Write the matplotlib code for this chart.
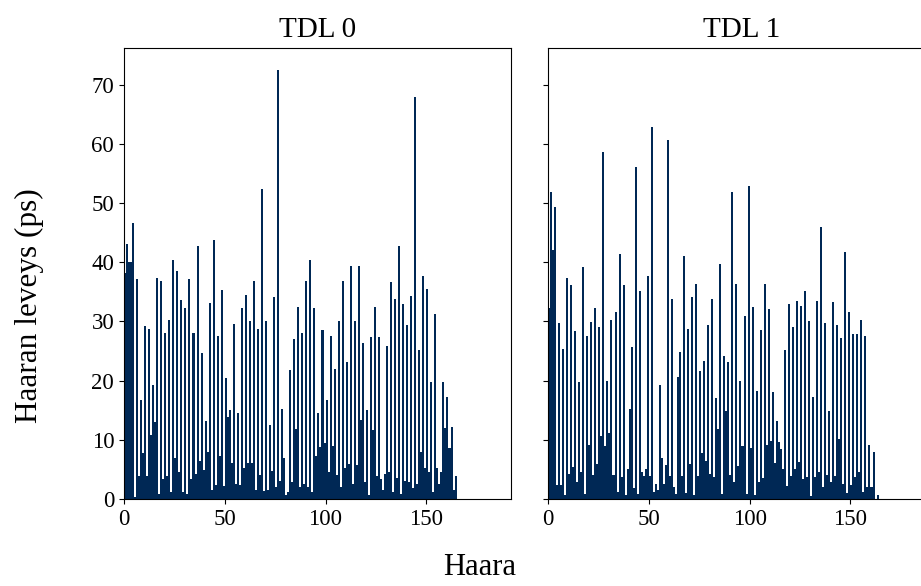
import numpy as np
import matplotlib
matplotlib.use("Agg")
import matplotlib.pyplot as plt

plt.rcParams["font.family"] = ["Liberation Serif", "DejaVu Serif"]

titles = ["TDL 0", "TDL 1"]
x_label = "Haara"
y_label = "Haaran leveys (ps)"

tdl0 = [
    38.2, 43.0, 40.1, 40.1, 46.6, 0.4, 37.2, 3.9, 16.7, 7.8,
    29.3, 3.8, 28.7, 10.8, 19.3, 13.0, 37.3, 0.8, 36.9, 3.3,
    28.1, 3.9, 30.3, 1.1, 40.4, 7.0, 38.6, 4.5, 33.7, 1.1,
    32.2, 0.8, 37.1, 3.3, 28.1, 4.2, 42.8, 6.4, 24.6, 4.9,
    13.1, 8.0, 33.1, 1.5, 43.8, 2.4, 27.5, 7.2, 35.3, 2.2,
    20.4, 13.9, 15.1, 6.0, 29.6, 2.6, 14.6, 2.4, 32.2, 5.2,
    34.4, 6.0, 30.1, 6.0, 36.8, 1.6, 28.7, 4.1, 52.4, 1.4,
    30.1, 1.5, 12.5, 4.7, 34.2, 2.0, 72.4, 3.1, 15.2, 7.0,
    0.7, 1.1, 21.8, 2.8, 27.1, 11.8, 32.5, 2.1, 28.0, 2.5,
    36.8, 2.1, 40.3, 1.1, 32.2, 7.3, 14.6, 8.7, 28.6, 9.4,
    16.7, 4.5, 27.5, 9.0, 21.9, 4.1, 30.1, 2.0, 36.8, 5.2,
    23.2, 5.9, 39.3, 2.5, 30.0, 5.7, 39.3, 13.4, 26.4, 2.8,
    15.1, 0.7, 27.3, 11.7, 32.4, 3.8, 27.3, 3.3, 1.6, 4.3,
    25.9, 4.5, 36.6, 1.2, 33.8, 3.5, 42.7, 0.8, 33.0, 3.1,
    29.4, 2.8, 34.3, 1.8, 67.9, 2.5, 25.2, 8.0, 37.6, 5.2,
    35.5, 4.5, 19.7, 1.2, 31.2, 5.2, 2.6, 4.6, 19.7, 12.0,
    17.2, 8.6, 12.1, 1.5, 3.9,
]

tdl1 = [
    32.2, 51.8, 42.1, 49.4, 2.4, 29.8, 2.3, 25.4, 0.7, 37.3,
    4.3, 36.2, 5.4, 28.4, 2.8, 19.7, 4.6, 39.2, 0.8, 27.6,
    9.1, 29.9, 4.1, 32.2, 5.9, 29.0, 10.7, 58.6, 8.9, 20.0,
    11.2, 30.3, 4.1, 31.6, 1.1, 41.4, 3.7, 36.1, 0.7, 5.0,
    15.2, 25.6, 1.9, 56.1, 0.8, 35.1, 4.6, 3.8, 5.0, 37.7,
    3.9, 62.9, 1.2, 2.5, 1.5, 19.3, 7.0, 2.5, 5.7, 60.7,
    3.9, 33.8, 2.0, 0.8, 20.6, 24.9, 3.9, 41.0, 1.0, 28.7,
    5.9, 34.1, 0.7, 36.4, 3.9, 21.7, 7.7, 23.3, 6.4, 29.4,
    4.2, 33.8, 3.7, 17.1, 11.8, 39.7, 0.8, 24.2, 14.9, 23.2,
    4.1, 51.8, 2.8, 36.4, 5.5, 20.0, 9.0, 31.0, 0.8, 52.8,
    8.6, 32.4, 0.7, 18.3, 2.9, 28.5, 3.5, 36.4, 9.1, 32.1,
    9.8, 18.0, 6.0, 13.2, 9.7, 8.4, 5.0, 25.2, 2.2, 32.9,
    3.9, 29.1, 5.0, 33.5, 6.3, 32.6, 3.3, 35.1, 3.7, 30.0,
    0.5, 17.3, 3.7, 33.5, 4.5, 45.9, 2.0, 29.7, 4.1, 14.9,
    2.9, 33.3, 3.9, 29.4, 10.1, 27.2, 2.5, 41.8, 1.0, 31.6,
    2.3, 27.9, 3.7, 27.8, 4.6, 30.3, 1.2, 27.5, 2.0, 9.1,
    2.0, 8.0, 0.0, 0.7,
]

x_ticks = [0, 50, 100, 150]
y_ticks = [0, 10, 20, 30, 40, 50, 60, 70]

bar_color = "#002855"

fig = plt.figure(figsize=(9.21, 5.86), dpi=100)
# right panel runs past the image edge, as in the reference
ax0 = fig.add_axes([0.1346, 0.1485, 0.4202, 0.7696])
ax1 = fig.add_axes([0.595, 0.1485, 0.4202, 0.7696], sharey=ax0)

for ax, values, title in zip([ax0, ax1], [tdl0, tdl1], titles):
    ax.bar(np.arange(len(values)), values, width=1.0, align="edge",
           color=bar_color, edgecolor="none")
    ax.set_xlim(0, 192)
    ax.set_ylim(0, 76.2)
    ax.set_xticks(x_ticks)
    ax.set_yticks(y_ticks)
    ax.tick_params(labelsize=16.5)
    ax.set_title(title, fontsize=21, pad=8)

ax1.tick_params(labelleft=False)

fig.text(0.521, 0.032, x_label, ha="center", va="center", fontsize=22)
fig.text(0.032, 0.478, y_label, ha="center", va="center", rotation=90, fontsize=22.5)

fig.savefig("out.png", dpi=100)
